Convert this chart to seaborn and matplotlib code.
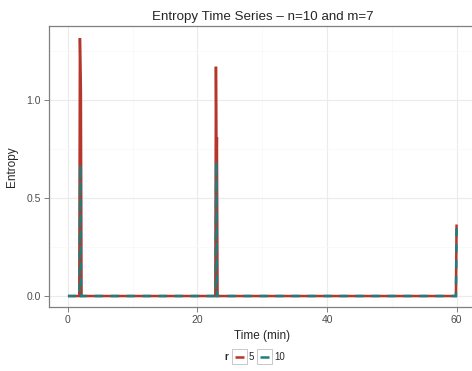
"""
Entropy time series for n=10, m=7 at two tolerance values r
"""
import pandas as pd
import numpy as np
import matplotlib
matplotlib.use('Agg')
import matplotlib.pyplot as plt
from matplotlib.patches import Rectangle
from matplotlib.lines import Line2D
import seaborn as sns

# values
time_r5 = [0, 1.75, 1.85, 2.0, 2.1, 22.75, 22.85, 22.95, 23.0, 23.1, 59.9, 60.0]
entropy_r5 = [0, 0, 1.316, 1.05, 0, 0, 1.17, 0.70, 0.81, 0, 0, 0.365]
time_r10 = [0, 1.8, 1.9, 2.0, 22.8, 22.9, 23.0, 59.9, 60.0]
entropy_r10 = [0, 0, 0.67, 0, 0, 0.685, 0, 0, 0.365]
r_levels = [5, 10]
colors = {5: '#B5372B', 10: '#1B8080'}

df = pd.concat([
    pd.DataFrame({'Time': time_r5, 'Entropy': entropy_r5, 'r': 5}),
    pd.DataFrame({'Time': time_r10, 'Entropy': entropy_r10, 'r': 10}),
], ignore_index=True)

sns.set_style('white')
plt.rcParams['font.family'] = ['Liberation Sans', 'DejaVu Sans']

fig = plt.figure(figsize=(4.72, 3.71), dpi=100)
ax = fig.add_axes([48.5 / 472, 1 - 307 / 371, (476 - 48.5) / 472, 281 / 371])

sns.lineplot(data=df, x='Time', y='Entropy', hue='r', style='r',
             hue_order=r_levels, style_order=r_levels, palette=colors,
             dashes={5: '', 10: (3.2, 3.2)}, linewidth=1.8,
             estimator=None, sort=False, legend=False, ax=ax,
             solid_capstyle='butt', solid_joinstyle='miter',
             dash_capstyle='butt', dash_joinstyle='miter')

ax.set_xlim(-3, 63)
ax.set_ylim(-0.056, 1.378)
ax.set_xticks([0, 20, 40, 60])
ax.set_xticks([10, 30, 50], minor=True)
ax.set_yticks([0.0, 0.5, 1.0])
ax.set_yticks([0.25, 0.75, 1.25], minor=True)
ax.set_yticklabels(['0.0', '0.5', '1.0'])
ax.grid(which='major', color='#EBEBEB', linewidth=0.8)
ax.grid(which='minor', color='#F7F7F7', linewidth=0.5)
ax.set_axisbelow(True)
for s in ax.spines.values():
    s.set_color('#7F7F7F')
    s.set_linewidth(0.9)
ax.spines['right'].set_visible(False)
ax.tick_params(which='major', length=3.5, width=0.7, color='#7F7F7F',
               labelsize=7.5, labelcolor='#4D4D4D', pad=2, bottom=True, left=True)
ax.tick_params(which='minor', length=0)

ax.set_xlabel('Time (min)', fontsize=8.5, labelpad=4)
ax.set_ylabel('Entropy', fontsize=8.5, labelpad=6)
ax.set_title('Entropy Time Series \u2013 n=10 and m=7', fontsize=9.6, pad=4)

# legend at the bottom, title on the left like ggplot
handles = [Line2D([], [], color=colors[5], lw=1.8, solid_capstyle='butt'),
           Line2D([], [], color=colors[10], lw=1.8, solid_capstyle='butt')]
leg = fig.legend(handles, ['5', '10'], ncol=2, loc='center',
                 bbox_to_anchor=(260 / 472, 1 - 357 / 371), frameon=False,
                 fontsize=7, handlelength=0.9, handletextpad=0.55,
                 columnspacing=0.6, borderpad=0)
fig.text(226 / 472, 1 - 357 / 371, 'r', fontsize=7, fontweight='bold',
         ha='center', va='center')

fig.canvas.draw()
for h in leg.legend_handles:
    bb = h.get_window_extent().transformed(fig.transFigure.inverted())
    cx, cy = (bb.x0 + bb.x1) / 2, (bb.y0 + bb.y1) / 2
    w, hh = 15 / 472, 15 / 371
    fig.patches.append(Rectangle((cx - w / 2, cy - hh / 2), w, hh,
                                 transform=fig.transFigure, fill=False,
                                 edgecolor='#BFBFBF', linewidth=0.6))

fig.savefig('out.png', dpi=100)
